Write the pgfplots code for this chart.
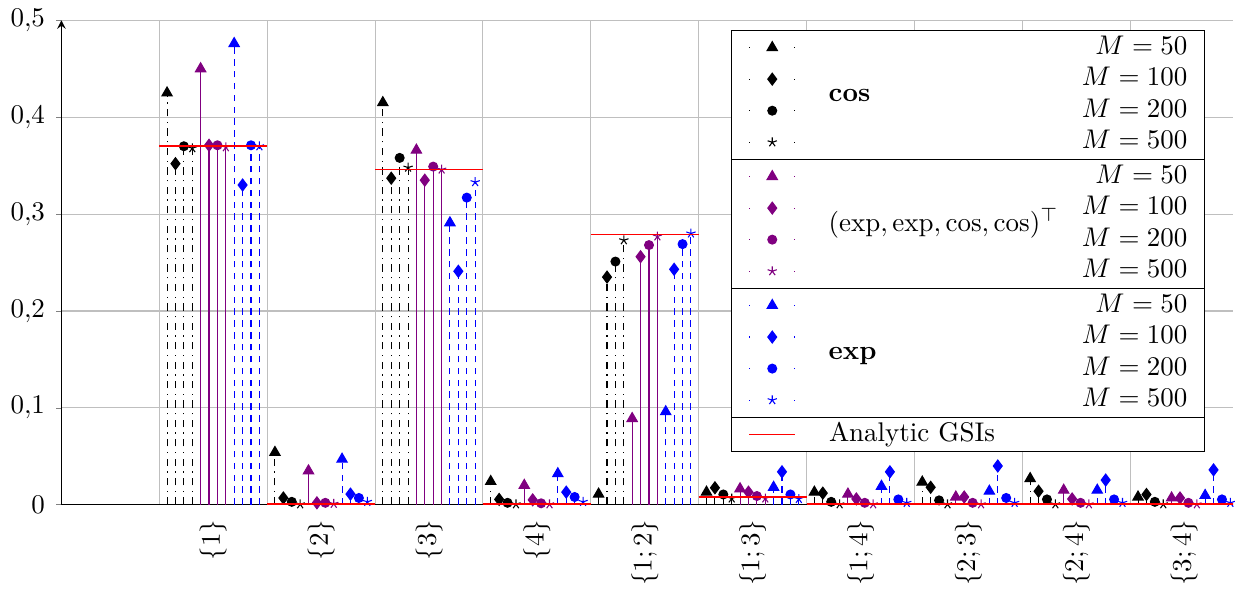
\documentclass[border=0pt]{standalone}
\usepackage{pgfplots}
\usepackage{pgfplotstable}
\pgfplotsset{compat=1.18}
\definecolor{mypurple}{RGB}{128,0,128}

\pgfplotstableread{
k c50 c100 c200 c500 m50 m100 m200 m500 e50 e100 e200 e500
1 0.425 0.352 0.370 0.368 0.450 0.371 0.371 0.369 0.476 0.330 0.371 0.370
2 0.054 0.007 0.003 0.0005 0.035 0.002 0.002 0.001 0.047 0.011 0.007 0.003
3 0.415 0.337 0.358 0.348 0.366 0.335 0.349 0.346 0.291 0.241 0.317 0.333
4 0.024 0.0055 0.002 0.0005 0.020 0.005 0.0015 0.0005 0.032 0.013 0.008 0.003
5 0.011 0.235 0.251 0.273 0.089 0.256 0.268 0.277 0.096 0.243 0.269 0.280
6 0.013 0.0175 0.0106 0.0065 0.0165 0.013 0.009 0.0065 0.018 0.034 0.0106 0.006
7 0.013 0.012 0.003 0.0005 0.011 0.006 0.002 0.0005 0.019 0.034 0.0055 0.002
8 0.0234 0.018 0.0045 0.0005 0.008 0.008 0.002 0.0005 0.014 0.040 0.007 0.002
9 0.027 0.014 0.0055 0.0005 0.015 0.006 0.002 0.0005 0.015 0.0255 0.0055 0.002
10 0.008 0.0106 0.003 0.0005 0.007 0.007 0.002 0.0005 0.0096 0.036 0.0055 0.002
}\gsi

\pgfplotstableread{
x an
0.5 0.370
1.5 0.001
2.5 0.346
3.5 0.001
4.5 0.279
5.5 0.008
6.5 0.001
7.5 0.001
8.5 0.001
9.5 0.001
10.5 0.001
}\analytic

\pgfplotsset{
  geom/.style={scale only axis, width=434.4pt, height=179.6pt},
  cosS/.style={black, line width=0.4pt, dash pattern=on 2.7pt off 2pt on 0.5pt off 2pt, mark options={solid}},
  mixS/.style={mypurple, line width=0.4pt, solid, mark options={solid}},
  expS/.style={blue, line width=0.4pt, dash pattern=on 2.4pt off 2pt, mark options={solid}},
  mTri/.style={mark=triangle*, mark size=2.2pt},
  mDia/.style={mark=diamond*, mark size=2.2pt},
  mCir/.style={mark=*, mark size=1.65pt},
  mSta/.style={mark=star, mark size=1.8pt},
  stemleg/.style={legend image code/.code={%
    \draw[mark repeat=2, mark phase=2, ##1, dash pattern=on 0.4pt off 16.27pt]
      plot coordinates {(0cm,0cm) (0.3cm,0cm) (0.6cm,0cm)};}},
  legstyle/.style={legend cell align=left,
    legend style={draw=black, fill=white, outer sep=0pt, inner xsep=6.3pt, inner ysep=0.5pt,
      /tikz/column sep=12.2pt, /tikz/row sep=0pt,
      nodes={inner xsep=0pt, inner ysep=2.6pt, text height=5.7pt, text depth=0.8pt}}},
  hid/.style={geom, hide axis, xmin=0, xmax=1, ymin=0, ymax=1, legstyle},
}
\newcommand{\lw}{133pt}

\begin{document}
\begin{tikzpicture}
\begin{axis}[geom,
  xmin=-0.407, xmax=10.454, ymin=0, ymax=0.5,
  axis lines=left, x axis line style={-},
  xtick={1,2,3,4,5,6,7,8,9,10},
  xticklabels={$\{1\}$,$\{2\}$,$\{3\}$,$\{4\}$,$\{1;2\}$,$\{1;3\}$,$\{1;4\}$,$\{2;3\}$,$\{2;4\}$,$\{3;4\}$},
  xticklabel style={rotate=90, anchor=east},
  minor xtick={0.5,1.5,2.5,3.5,4.5,5.5,6.5,7.5,8.5,9.5,10.5},
  xminorgrids=true, ymajorgrids=true,
  ytick={0,0.1,0.2,0.3,0.4,0.5},
  yticklabel style={/pgf/number format/fixed, /pgf/number format/use comma, inner xsep=3.9pt},
  tick align=outside, major tick length=2pt, minor tick length=0pt,
  xtick style={draw=none},
  grid style={black!25, line width=0.4pt},
  clip mode=individual,
]
\addplot[ycomb, cosS, mTri] table[x expr=\thisrow{k}-0.428, y=c50]{\gsi};
\addplot[ycomb, cosS, mDia] table[x expr=\thisrow{k}-0.350, y=c100]{\gsi};
\addplot[ycomb, cosS, mCir] table[x expr=\thisrow{k}-0.272, y=c200]{\gsi};
\addplot[ycomb, cosS, mSta] table[x expr=\thisrow{k}-0.194, y=c500]{\gsi};
\addplot[ycomb, mixS, mTri] table[x expr=\thisrow{k}-0.117, y=m50]{\gsi};
\addplot[ycomb, mixS, mDia] table[x expr=\thisrow{k}-0.039, y=m100]{\gsi};
\addplot[ycomb, mixS, mCir] table[x expr=\thisrow{k}+0.039, y=m200]{\gsi};
\addplot[ycomb, mixS, mSta] table[x expr=\thisrow{k}+0.117, y=m500]{\gsi};
\addplot[ycomb, expS, mTri] table[x expr=\thisrow{k}+0.194, y=e50]{\gsi};
\addplot[ycomb, expS, mDia] table[x expr=\thisrow{k}+0.272, y=e100]{\gsi};
\addplot[ycomb, expS, mCir] table[x expr=\thisrow{k}+0.350, y=e200]{\gsi};
\addplot[ycomb, expS, mSta] table[x expr=\thisrow{k}+0.428, y=e500]{\gsi};

\addplot[red, line width=0.65pt, jump mark left, forget plot] table[x=x, y=an]{\analytic};
\end{axis}

\begin{axis}[hid, legend style={at={(0.572,0.979)}, anchor=north west, name=legA}]
\addlegendimage{stemleg, cosS, mTri}
\addlegendentry{\makebox[\lw][r]{$M=50$}}
\addlegendimage{stemleg, cosS, mDia}
\addlegendentry{\makebox[\lw][l]{\raisebox{-5.85pt}[0pt][0pt]{\textbf{cos}}\hfill$M=100$}}
\addlegendimage{stemleg, cosS, mCir}
\addlegendentry{\makebox[\lw][r]{$M=200$}}
\addlegendimage{stemleg, cosS, mSta}
\addlegendentry{\makebox[\lw][r]{$M=500$}}
\end{axis}

\begin{axis}[hid, legend style={at={(legA.south west)}, anchor=north west, name=legB}]
\addlegendimage{stemleg, mixS, mTri}
\addlegendentry{\makebox[\lw][r]{$M=50$}}
\addlegendimage{stemleg, mixS, mDia}
\addlegendentry{\makebox[\lw][l]{\raisebox{-6.1pt}[0pt][0pt]{$(\exp,\exp,\cos,\cos)^{\top}$}\hfill$M=100$}}
\addlegendimage{stemleg, mixS, mCir}
\addlegendentry{\makebox[\lw][r]{$M=200$}}
\addlegendimage{stemleg, mixS, mSta}
\addlegendentry{\makebox[\lw][r]{$M=500$}}
\end{axis}

\begin{axis}[hid, legend style={at={(legB.south west)}, anchor=north west, name=legC}]
\addlegendimage{stemleg, expS, mTri}
\addlegendentry{\makebox[\lw][r]{$M=50$}}
\addlegendimage{stemleg, expS, mDia}
\addlegendentry{\makebox[\lw][l]{\raisebox{-5.85pt}[0pt][0pt]{\textbf{exp}}\hfill$M=100$}}
\addlegendimage{stemleg, expS, mCir}
\addlegendentry{\makebox[\lw][r]{$M=200$}}
\addlegendimage{stemleg, expS, mSta}
\addlegendentry{\makebox[\lw][r]{$M=500$}}
\end{axis}

\begin{axis}[hid, legend style={at={(legC.south west)}, anchor=north west, name=legD}]
\addlegendimage{legend image code/.code={\draw[red, line width=0.5pt] (0cm,0cm) -- (0.6cm,0cm);}}
\addlegendentry{\makebox[\lw][l]{Analytic GSIs}}
\end{axis}
\end{tikzpicture}
\end{document}
